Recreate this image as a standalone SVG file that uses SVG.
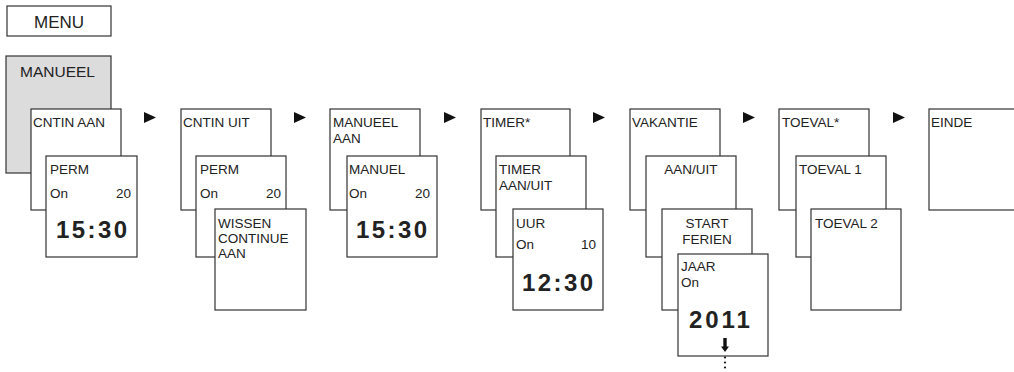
<svg xmlns="http://www.w3.org/2000/svg" width="1014" height="372" viewBox="0 0 1014 372">
<style>
.b{fill:#fff;stroke:#333;stroke-width:1.2}
.g{fill:#dcdcdd;stroke:#333;stroke-width:1.2}
text{font-family:"Liberation Sans",Arial,sans-serif;fill:#222}
.t{font-size:13.5px}
.big{font-size:24px;font-weight:bold;letter-spacing:2.4px}
.c{text-anchor:middle}
.e{text-anchor:end}
.arr{fill:#111}
</style>
<rect width="1014" height="372" fill="#fff"/>
<g id="menu"><rect class="b" x="7" y="6" width="104" height="30"/><text x="59" y="28" class="c" font-size="17">MENU</text></g>
<g id="manueel"><rect class="g" x="6" y="56" width="105" height="117"/><text x="20" y="77" font-size="15.5">MANUEEL</text></g>

<g id="cntin-aan"><rect class="b" x="31" y="109" width="90" height="101"/><text class="t" x="33" y="127">CNTIN AAN</text></g>
<g id="perm1"><rect class="b" x="46" y="156" width="91" height="101"/><text class="t" x="50" y="174">PERM</text><text class="t" x="50" y="198">On</text><text class="t e" x="131" y="198">20</text><text class="big" x="56" y="238">15:30</text></g>

<g id="cntin-uit"><rect class="b" x="181" y="109" width="90" height="101"/><text class="t" x="183" y="127">CNTIN UIT</text></g>
<g id="perm2"><rect class="b" x="196" y="156" width="90" height="101"/><text class="t" x="200" y="174">PERM</text><text class="t" x="200" y="198">On</text><text class="t e" x="281" y="198">20</text></g>
<g id="wissen"><rect class="b" x="215" y="209" width="91" height="101"/><text class="t" x="218" y="228">WISSEN</text><text class="t" x="218" y="243">CONTINUE</text><text class="t" x="218" y="258">AAN</text></g>

<g id="manueel-aan"><rect class="b" x="330" y="109" width="90" height="101"/><text class="t" x="333" y="127">MANUEEL</text><text class="t" x="333" y="143">AAN</text></g>
<g id="manuel"><rect class="b" x="347" y="156" width="90" height="101"/><text class="t" x="349" y="174">MANUEL</text><text class="t" x="349" y="198">On</text><text class="t e" x="430" y="198">20</text><text class="big" x="356" y="238">15:30</text></g>

<g id="timer"><rect class="b" x="481" y="109" width="89" height="101"/><text class="t" x="483" y="127">TIMER*</text></g>
<g id="timer-aanuit"><rect class="b" x="496" y="156" width="90" height="101"/><text class="t" x="499" y="174">TIMER</text><text class="t" x="499" y="190">AAN/UIT</text></g>
<g id="uur"><rect class="b" x="513" y="209" width="90" height="101"/><text class="t" x="516" y="228">UUR</text><text class="t" x="516" y="249">On</text><text class="t e" x="596" y="249">10</text><text class="big" x="522" y="291">12:30</text></g>

<g id="vakantie"><rect class="b" x="630" y="109" width="90" height="101"/><text class="t" x="632" y="127">VAKANTIE</text></g>
<g id="aanuit"><rect class="b" x="646" y="156" width="90" height="101"/><text class="t c" x="691" y="174">AAN/UIT</text></g>
<g id="start-ferien"><rect class="b" x="662" y="209" width="90" height="101"/><text class="t c" x="707" y="228">START</text><text class="t c" x="707" y="244">FERIEN</text></g>
<g id="jaar"><rect class="b" x="678" y="254" width="90" height="102"/><text class="t" x="681" y="271">JAAR</text><text class="t" x="681" y="287">On</text><text class="big" x="689" y="328" style="letter-spacing:2.9px">2011</text>
<polygon class="arr" points="723.3,338 726.7,338 726.7,346.5 729,346.5 725,352 721,346.5 723.3,346.5"/></g>

<g id="toeval"><rect class="b" x="779" y="109" width="90" height="101"/><text class="t" x="782" y="127">TOEVAL*</text></g>
<g id="toeval1"><rect class="b" x="796" y="156" width="90" height="101"/><text class="t" x="799" y="174">TOEVAL 1</text></g>
<g id="toeval2"><rect class="b" x="811" y="209" width="90" height="101"/><text class="t" x="815" y="228">TOEVAL 2</text></g>

<g id="einde"><rect class="b" x="929" y="109" width="90" height="101"/><text class="t" x="931" y="127">EINDE</text></g>

<g id="connectors">
<polygon class="arr" points="144,112 156,117.5 144,123"/>
<polygon class="arr" points="294,112 306,117.5 294,123"/>
<polygon class="arr" points="444,112 456,117.5 444,123"/>
<polygon class="arr" points="593,112 605,117.5 593,123"/>
<polygon class="arr" points="743,112 755,117.5 743,123"/>
<polygon class="arr" points="893,112 905,117.5 893,123"/>
<circle class="arr" cx="725" cy="357.5" r="1.1"/>
<circle class="arr" cx="725" cy="362.5" r="1.1"/>
<circle class="arr" cx="725" cy="367.5" r="1.1"/>
</g>
</svg>
